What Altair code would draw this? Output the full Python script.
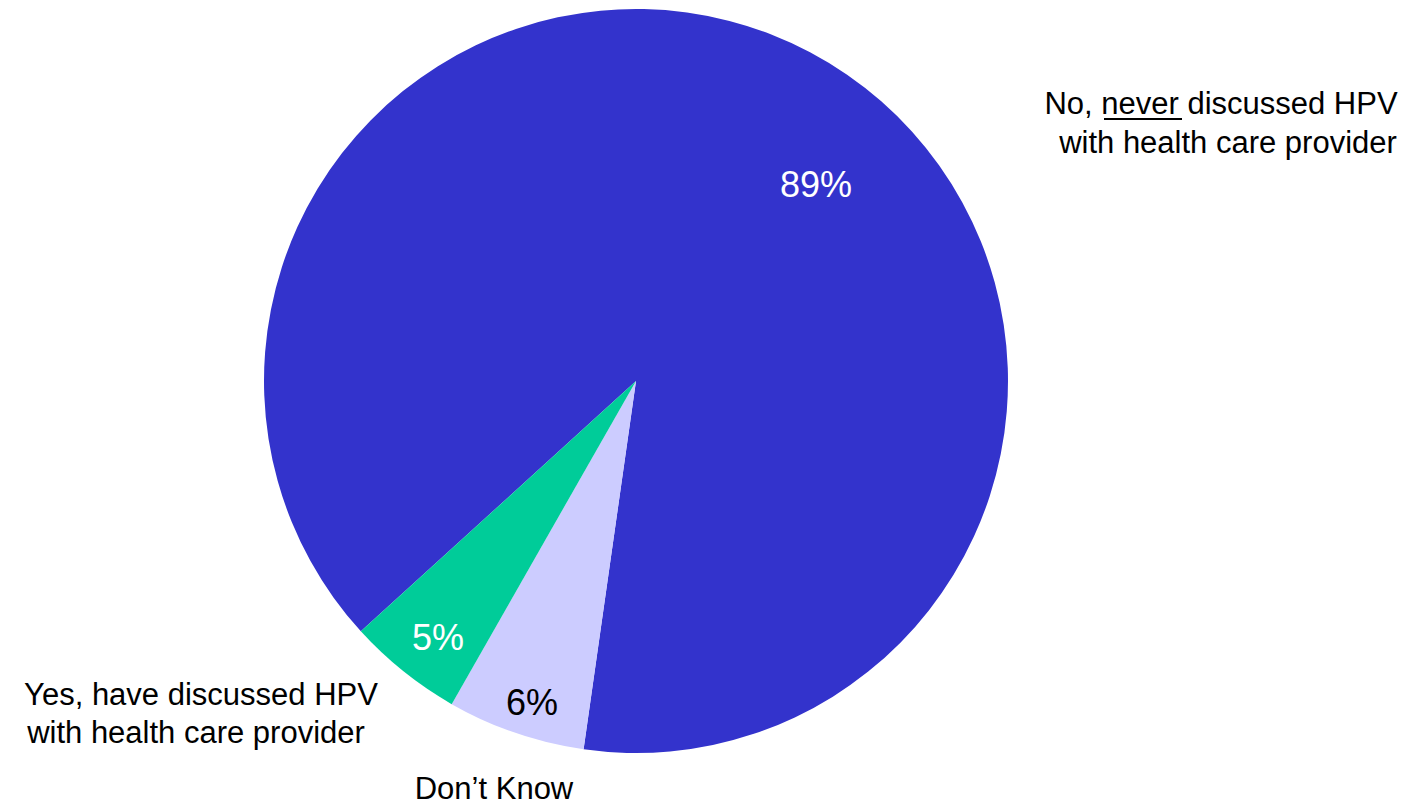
import math
import altair as alt
import pandas as pd

# Data
categories = ["No, never discussed HPV with health care provider",
              "Don't Know",
              "Yes, have discussed HPV with health care provider"]
values = [89, 6, 5]
pct_labels = ["89%", "6%", "5%"]
colors = ["#3333CC", "#CCCCFF", "#00CC99"]
label_colors = ["white", "black", "white"]

df = pd.DataFrame({
    "cat": categories,
    "value": values,
    "pct": pct_labels,
    "idx": list(range(len(categories))),
})

FONT = "Liberation Sans"
start = math.radians(227.7)
CX, CY, R = 628, 373, 372

base = alt.Chart(df)

pie = base.mark_arc(outerRadius=R, stroke=None).encode(
    x=alt.value(CX), y=alt.value(CY),
    theta=alt.Theta("value:Q", stack=True,
                    scale=alt.Scale(range=[start, start + 2 * math.pi])),
    color=alt.Color("cat:N", scale=alt.Scale(domain=categories, range=colors), legend=None),
    order=alt.Order("idx:Q"),
)

def pct_text(i, x, y):
    return base.transform_filter(alt.datum.idx == i).mark_text(
        font=FONT, fontSize=36, align="center", baseline="middle",
        color=label_colors[i]
    ).encode(x=alt.value(x), y=alt.value(y), text="pct:N")

t89 = pct_text(0, 808, 178)
t6 = pct_text(1, 524, 696)
t5 = pct_text(2, 430, 631)

def cat_text(line, x, y):
    return alt.Chart(pd.DataFrame({"t": [line]})).mark_text(
        font=FONT, fontSize=31, align="center", baseline="middle", color="black"
    ).encode(x=alt.value(x), y=alt.value(y), text="t:N")

no_l1 = cat_text("No, never discussed HPV", 1213, 97)
no_l2 = cat_text("with health care provider", 1220, 135.5)
yes_l1 = cat_text("Yes, have discussed HPV", 193, 687.5)
yes_l2 = cat_text("with health care provider", 188, 725.5)
dk_lbl = cat_text("Don\u2019t Know", 486, 782)

underline = alt.Chart(pd.DataFrame({"a": [0]})).mark_rule(color="black", strokeWidth=2).encode(
    x=alt.value(1096), x2=alt.value(1174), y=alt.value(111)
)

chart = alt.layer(pie, t89, t6, t5, no_l1, no_l2, yes_l1, yes_l2, dk_lbl, underline).properties(
    width=1404, height=797, padding=0, autosize=alt.AutoSizeParams(type="none")
).configure_view(strokeWidth=0)

chart.save("out.html", embed_options={"renderer": "svg", "actions": False})
